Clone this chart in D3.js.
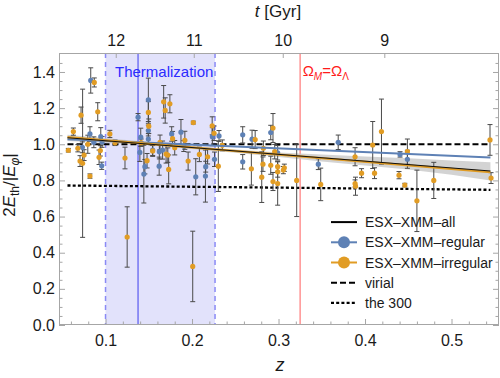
<!DOCTYPE html>
<html><head><meta charset="utf-8">
<script src="https://cdn.jsdelivr.net/npm/d3@7"></script>
<style>body{margin:0;background:#fff} text{font-family:"Liberation Sans",Arial,Helvetica,sans-serif}</style>
</head><body><svg id="c" width="500" height="378"></svg>
<script>
// ---- data: [z, value, error half-width] ----
const regular = [
 [0.0732,0.983,0.03],[0.082,1.057,0.04],[0.0829,1.353,0.07],[0.0865,1.011,0.03],
 [0.0945,1.042,0.05],[0.096,1.013,0.03],[0.0956,0.881,0.02],[0.1376,1.15,0.02],
 [0.1407,1.039,0.05],[0.1397,0.955,0.05],[0.1455,0.876,0.04],[0.1443,0.835,0.16],
 [0.1495,1.246,0.12],[0.1495,1.076,0.03],[0.1495,1.029,0.03],[0.1545,0.968,0.03],
 [0.162,0.879,0.05],[0.1622,0.959,0.04],[0.166,0.968,0.05],[0.1765,1.057,0.04],
 [0.1872,1.067,0.07],[0.1905,0.99,0.03],[0.2043,0.82,0.10],[0.2158,0.876,0.03],
 [0.2155,0.824,0.144],[0.2235,1.042,0.05],[0.226,0.917,0.04],[0.2312,1.046,0.03],
 [0.2586,1.052,0.045],[0.2586,0.903,0.04],[0.2694,1.028,0.05],[0.291,1.065,0.04],
 [0.299,0.953,0.04],[0.346,0.89,0.03],[0.369,1.011,0.04],[0.4405,0.944,0.015],
 [0.449,0.917,0.05]
];
const irregular = [
 [0.057,0.967,0.01],[0.0628,1.07,0.02],[0.068,0.978,0.02],[0.0705,0.907,0.03],
 [0.0735,0.895,0.41],[0.0752,0.94,0.03],[0.0717,1.161,0.045],[0.087,1.342,0.025],
 [0.091,1.18,0.05],[0.082,0.824,0.012],[0.0795,1.0,0.05],[0.0925,0.928,0.04],
 [0.094,0.965,0.03],[0.105,1.057,0.02],[0.111,1.008,0.015],[0.1225,0.924,0.06],
 [0.125,0.487,0.167],[0.1412,1.009,0.02],[0.148,0.909,0.04],[0.150,1.10,0.04],
 [0.1495,1.176,0.06],[0.1545,0.963,0.03],[0.163,1.011,0.04],[0.1672,1.235,0.09],
 [0.169,1.187,0.07],[0.1744,1.224,0.05],[0.170,0.946,0.05],[0.172,0.94,0.04],
 [0.173,0.861,0.08],[0.1775,1.031,0.04],[0.18,0.981,0.04],[0.1917,1.022,0.05],
 [0.1955,0.907,0.05],[0.2015,1.12,0.008],[0.2008,0.324,0.195],[0.2085,0.944,0.04],
 [0.218,0.931,0.04],[0.2233,1.102,0.05],[0.2255,1.061,0.04],[0.2304,0.879,0.14],
 [0.235,0.994,0.03],[0.2686,0.864,0.09],[0.273,1.026,0.05],[0.2825,0.978,0.04],
 [0.282,0.89,0.04],[0.2806,0.818,0.14],[0.2936,1.09,0.08],[0.291,0.884,0.05],
 [0.2936,0.794,0.05],[0.2956,0.959,0.04],[0.299,0.876,0.03],[0.299,0.848,0.03],
 [0.299,0.783,0.12],[0.3056,0.857,0.02],[0.3067,0.87,0.02],[0.321,0.80,0.2],
 [0.3488,0.778,0.09],[0.3885,0.931,0.05],[0.396,0.84,0.025],[0.3885,0.783,0.02],
 [0.389,0.768,0.05],[0.4089,0.996,0.13],[0.411,0.84,0.03],[0.419,1.07,0.18],
 [0.4393,0.829,0.02],[0.446,0.774,0.01],[0.449,0.959,0.07],[0.46,0.687,0.17],
 [0.4795,0.80,0.1],[0.5445,1.024,0.085],[0.5457,0.813,0.03]
];
const fitAll = [[0.056,1.036],[0.545,0.852]];
const fitRegular = [[0.056,1.028],[0.545,0.927]];
const fitIrregular = [[0.056,1.040],[0.545,0.846]];
const bandAll = [[0.056,1.018,1.053],[0.15,0.995,1.012],[0.2,0.974,0.989],[0.25,0.953,0.971],
 [0.3,0.93,0.955],[0.35,0.905,0.943],[0.4,0.882,0.932],[0.45,0.86,0.922],[0.5,0.832,0.91],[0.545,0.80,0.90]];
const virial = [[0.056,1.0],[0.545,1.0]];
const the300 = [[0.056,0.772],[0.545,0.748]];
const thermal = {lo:0.1, mid:0.1376, hi:0.2266};
const equality = 0.325;
const xMajor = [0.1,0.2,0.3,0.4,0.5];
const yMajor = [0,0.2,0.4,0.6,0.8,1.0,1.2,1.4];
const topT = [12,11,10,9];
const topZ = [0.1118,0.2020,0.3049,0.4223];
const legendItems = ["ESX\u2013XMM\u2013all","ESX\u2013XMM\u2013regular","ESX\u2013XMM\u2013irregular","virial","the 300"];

// ---- drawing ----
const L=59,R=499,T=53,B=325;
const BLUE="#5e81b5", ORANGE="#e19c24";
const svg=d3.select("#c");
const x=d3.scaleLinear().domain([0.0462,0.5549]).range([L,R]);
const y=d3.scaleLinear().domain([0,1.505]).range([B,T]);
const clip=svg.append("clipPath").attr("id","cp").append("rect").attr("x",L).attr("y",T).attr("width",R-L).attr("height",B-T);
const pg=svg.append("g").attr("clip-path","url(#cp)");

// thermalization region
pg.append("rect").attr("x",x(thermal.lo)).attr("y",T).attr("width",x(thermal.hi)-x(thermal.lo)).attr("height",B-T).attr("fill","#e2e2fb");
[thermal.lo,thermal.hi].forEach(v=>pg.append("line").attr("x1",x(v)).attr("x2",x(v)).attr("y1",T).attr("y2",B)
  .attr("stroke","#8a8af5").attr("stroke-width",1.5).attr("stroke-dasharray","5,4"));
pg.append("line").attr("x1",x(thermal.mid)).attr("x2",x(thermal.mid)).attr("y1",T).attr("y2",B).attr("stroke","#7b7bf2").attr("stroke-width",1.6);
pg.append("line").attr("x1",x(equality)).attr("x2",x(equality)).attr("y1",T).attr("y2",B).attr("stroke","#ff9a9a").attr("stroke-width",1.6);

// band
pg.append("path").datum(bandAll).attr("fill","#c8c8c8").attr("opacity",0.8)
  .attr("d",d3.area().x(d=>x(d[0])).y0(d=>y(d[1])).y1(d=>y(d[2])));

// reference lines
const line=d3.line().x(d=>x(d[0])).y(d=>y(d[1]));
pg.append("path").datum(virial).attr("d",line).attr("fill","none").attr("stroke","#000").attr("stroke-width",2).attr("stroke-dasharray","6,3");
pg.append("path").datum(the300).attr("d",line).attr("fill","none").attr("stroke","#000").attr("stroke-width",2.3).attr("stroke-dasharray","3,2.2");

// error bars
function errs(data){
  const g=pg.append("g").attr("stroke","#4a4a4a").attr("stroke-width",1);
  g.selectAll("line.v").data(data).join("line").attr("x1",d=>x(d[0])).attr("x2",d=>x(d[0])).attr("y1",d=>y(d[1]-d[2])).attr("y2",d=>y(d[1]+d[2]));
  g.selectAll("line.t").data(data).join("line").attr("class","t").attr("x1",d=>x(d[0])-2.5).attr("x2",d=>x(d[0])+2.5).attr("y1",d=>y(d[1]+d[2])).attr("y2",d=>y(d[1]+d[2]));
  g.selectAll("line.b").data(data).join("line").attr("class","b").attr("x1",d=>x(d[0])-2.5).attr("x2",d=>x(d[0])+2.5).attr("y1",d=>y(d[1]-d[2])).attr("y2",d=>y(d[1]-d[2]));
}
errs(regular); errs(irregular);
pg.append("g").selectAll("circle").data(regular).join("circle").attr("cx",d=>x(d[0])).attr("cy",d=>y(d[1])).attr("r",2.6).attr("fill",BLUE);
pg.append("g").selectAll("circle").data(irregular).join("circle").attr("cx",d=>x(d[0])).attr("cy",d=>y(d[1])).attr("r",2.6).attr("fill",ORANGE);

// fits
pg.append("path").datum(fitRegular).attr("d",line).attr("fill","none").attr("stroke",BLUE).attr("stroke-width",2);
pg.append("path").datum(fitIrregular).attr("d",line).attr("fill","none").attr("stroke",ORANGE).attr("stroke-width",2.2);
pg.append("path").datum(fitAll).attr("d",line).attr("fill","none").attr("stroke","#111").attr("stroke-width",1.2);

// annotations
svg.append("text").attr("x",115).attr("y",77).attr("fill","#2b2bff").style("font-size","15px").text("Thermalization");
const om=svg.append("text").attr("x",x(equality)+2.5).attr("y",76).attr("fill","#ff1a1a").style("font-size","15px");
om.append("tspan").text("\u03A9");
om.append("tspan").attr("dy",4).style("font-size","10px").style("font-style","italic").text("M");
om.append("tspan").attr("dy",-4).text("=\u03A9");
om.append("tspan").attr("dy",4).style("font-size","10px").text("\u039B");

// frame
svg.append("rect").attr("x",L+0.5).attr("y",T+0.5).attr("width",R-L-1).attr("height",B-T-1).attr("fill","none").attr("stroke","#a6a6a6");

function styleAx(g){g.select(".domain").remove();g.selectAll("line").attr("stroke","#a6a6a6");g.selectAll("text").attr("fill","#1a1a1a").style("font-size","16px");return g;}
const xMinor=d3.range(0.06,0.555,0.02).filter(v=>!xMajor.some(m=>Math.abs(m-v)<1e-6));
const yMinor=d3.range(0.05,1.5,0.05).filter(v=>!yMajor.some(m=>Math.abs(m-v)<1e-6));
styleAx(svg.append("g").attr("transform",`translate(0,${B})`).call(d3.axisBottom(x).tickValues(xMajor).tickSize(-6).tickPadding(10).tickFormat(d3.format(".1f"))));
styleAx(svg.append("g").attr("transform",`translate(0,${B})`).call(d3.axisBottom(x).tickValues(xMinor).tickSize(-3.5).tickFormat("")));
styleAx(svg.append("g").attr("transform",`translate(${L},0)`).call(d3.axisLeft(y).tickValues(yMajor).tickSize(-6).tickPadding(4).tickFormat(d3.format(".1f"))));
styleAx(svg.append("g").attr("transform",`translate(${L},0)`).call(d3.axisLeft(y).tickValues(yMinor).tickSize(-3.5).tickFormat("")));
styleAx(svg.append("g").attr("transform",`translate(${R},0)`).call(d3.axisRight(y).tickValues(yMajor).tickSize(-6).tickFormat("")));
styleAx(svg.append("g").attr("transform",`translate(${R},0)`).call(d3.axisRight(y).tickValues(yMinor).tickSize(-3.5).tickFormat("")));
styleAx(svg.append("g").attr("transform",`translate(0,${T})`).call(d3.axisTop(x).tickValues(topZ).tickSize(-5).tickPadding(7).tickFormat((d,i)=>topT[i])));

// axis titles
const tt=svg.append("text").attr("x",278).attr("y",17).attr("text-anchor","middle").attr("fill","#1a1a1a").style("font-size","17px");
tt.append("tspan").style("font-style","italic").text("t");
tt.append("tspan").text(" [Gyr]");
svg.append("text").attr("x",280).attr("y",371).attr("text-anchor","middle").attr("fill","#1a1a1a").style("font-size","18px").style("font-style","italic").text("z");
const yt=svg.append("text").attr("transform","translate(15,185) rotate(-90)").attr("text-anchor","middle").attr("fill","#1a1a1a").style("font-size","17px");
yt.append("tspan").text("2");
yt.append("tspan").style("font-style","italic").text("E");
yt.append("tspan").attr("dy",4).style("font-size","12px").text("th");
yt.append("tspan").attr("dy",-4).text("/|");
yt.append("tspan").style("font-style","italic").text("E");
yt.append("tspan").attr("dy",4).style("font-size","12px").style("font-style","italic").text("\u03C6");
yt.append("tspan").attr("dy",-4).text("|");

// legend
const lg=svg.append("g");
const ly=d3.scaleBand().domain(legendItems).range([212,313]);
legendItems.forEach((name,i)=>{
  const cy=ly(name)+ly.bandwidth()/2;
  const ln=lg.append("line").attr("x1",331).attr("x2",357).attr("y1",cy).attr("y2",cy).attr("stroke-width",2);
  if(i===0) ln.attr("stroke","#000");
  if(i===1||i===2){ln.attr("stroke",i===1?BLUE:ORANGE);lg.append("circle").attr("cx",344).attr("cy",cy).attr("r",6).attr("fill",i===1?BLUE:ORANGE);}
  if(i===3) ln.attr("stroke","#000").attr("stroke-dasharray","6,3");
  if(i===4) ln.attr("stroke","#000").attr("stroke-dasharray","3,2.2").attr("stroke-width",2.3);
  lg.append("text").attr("x",365).attr("y",cy).attr("dy","0.36em").attr("fill","#1a1a1a").style("font-size","14px").text(name);
});
</script></body></html>
